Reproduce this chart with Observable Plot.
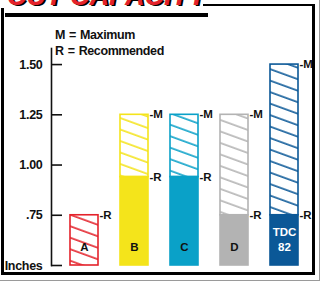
<!DOCTYPE html>
<html><head><meta charset="utf-8">
<script src="https://cdn.jsdelivr.net/npm/d3@7"></script>
<script src="https://cdn.jsdelivr.net/npm/@observablehq/plot@0.6"></script>
<style>
body{margin:0;background:#fff;}
#wrap{position:relative;width:323px;height:282px;overflow:hidden;background:#fff;font-family:"Liberation Sans",Arial,sans-serif;}
#chart{position:absolute;left:0;top:0;}
.ln{position:absolute;background:#000;}
.gr{position:absolute;background:#9a9a9a;}
#title{position:absolute;left:7px;top:-17px;font:italic bold 27px "Liberation Sans",Arial,sans-serif;color:#e4222b;text-shadow:2px 1px 0 #000;line-height:1;white-space:nowrap;}
#legend{position:absolute;left:55px;top:28px;font-weight:bold;font-size:12.5px;letter-spacing:-0.4px;word-spacing:1px;line-height:15.5px;color:#111;}
</style></head><body>
<div id="wrap">
  <div id="chart"></div>
  <div id="title">CUT CAPACITY</div>
  <div class="ln" style="left:5px;top:13px;width:203px;height:4px"></div>
  <div class="ln" style="left:203px;top:4px;width:112px;height:2px"></div>
  <div class="ln" style="left:1px;top:8px;width:3px;height:267px"></div>
  <div class="ln" style="left:312px;top:4px;width:3px;height:271px"></div>
  <div class="ln" style="left:1px;top:272px;width:314px;height:3px"></div>
  <div class="gr" style="left:319px;top:0;width:1px;height:281px"></div>
  <div class="gr" style="left:0;top:280px;width:320px;height:1px"></div>
  <div id="legend"><div>M = Maximum</div><div>R = Recommended</div></div>
</div>
<script>
const categories = ["A","B","C","D","TDC 82"];
const barLabels = ["A","B","C","D","TDC\n82"];
const recommended = [0.75, 0.94, 0.94, 0.75, 0.75];
const maximum = [null, 1.25, 1.25, 1.25, 1.50];
const colors = ["#e4222b","#f4e41b","#0aa1c8","#b3b3b3","#0b5897"];
const labelColors = ["#111","#111","#111","#111","#fff"];
const tickValues = [0.5, 0.75, 1.0, 1.25, 1.5];
const tickLabels = ["Inches", ".75", "1.00", "1.25", "1.50"];
const base = 0.5;

const bars = categories.map((c, i) => ({cat: c, label: barLabels[i], rec: recommended[i], max: maximum[i],
  color: colors[i], hatch: `url(#hatch${i})`, labelColor: labelColors[i], base}));
const hatched = bars.map(d => ({...d, y1: d.max == null ? base : d.rec, y2: d.max == null ? d.rec : d.max}));
const solid = bars.filter(d => d.max != null);
const endLabels = bars.flatMap(d => d.max == null ? [{cat: d.cat, v: d.rec, t: "-R"}]
  : [{cat: d.cat, v: d.max, t: "-M"}, {cat: d.cat, v: d.rec, t: "-R"}]);

const W = 323, H = 282, mL = 51, mT = 48, mB = 17, mR = 0;
const font = '"Liberation Sans",Arial,sans-serif';
const svg = Plot.plot({
  width: W, height: H, marginLeft: mL, marginTop: mT, marginBottom: mB, marginRight: mR,
  style: {background: "transparent", fontFamily: font, overflow: "visible", color: "#111"},
  x: {type: "band", domain: categories, range: [47, 321], padding: 0.444, axis: null},
  y: {domain: [0.5, 1.58], range: [265, 48], axis: null},
  color: {type: "identity"},
  marks: [
    Plot.rectY(solid, {x: "cat", y1: "base", y2: "rec", fill: "color", stroke: "color", strokeWidth: 1.6}),
    Plot.rectY(hatched, {x: "cat", y1: "y1", y2: "y2", fill: "hatch", stroke: "color", strokeWidth: 1.6}),
    Plot.frame({anchor: "left", stroke: "#111", strokeWidth: 1.6}),
    Plot.ruleY(tickValues, {stroke: "#111", strokeWidth: 1.6, insetRight: (W - mL - mR) - 11}),
    Plot.axisY(tickValues, {anchor: "left", tickSize: 0, tickPadding: 9, label: null,
      tickFormat: d => tickLabels[tickValues.indexOf(d)], fontSize: 12.5, fontWeight: "bold", fill: "#111"}),
    Plot.text(endLabels, {x: "cat", y: "v", text: "t", textAnchor: "start", dx: 15, fontSize: 11.5, fontWeight: "bold", fill: "#111"}),
    Plot.text(bars, {x: "cat", y: "base", text: "label", fill: "labelColor", lineAnchor: "bottom", dy: -15,
      fontSize: 11.5, fontWeight: "bold", lineHeight: 1.3})
  ]
});
svg.querySelectorAll("g[aria-label='y-axis tick label'] text, g[aria-label='y-axis tick label']").forEach(e => e.setAttribute("letter-spacing", "-0.3"));
const ns = "http://www.w3.org/2000/svg";
const defs = document.createElementNS(ns, "defs");
colors.forEach((c, i) => {
  const p = document.createElementNS(ns, "pattern");
  p.setAttribute("id", "hatch" + i);
  p.setAttribute("patternUnits", "userSpaceOnUse");
  p.setAttribute("width", 10);
  p.setAttribute("height", 10.8);
  p.setAttribute("patternTransform", "rotate(20)");
  const l = document.createElementNS(ns, "line");
  l.setAttribute("x1", -1); l.setAttribute("x2", 11);
  l.setAttribute("y1", 5); l.setAttribute("y2", 5);
  l.setAttribute("stroke", c); l.setAttribute("stroke-width", 1.6);
  p.appendChild(l);
  defs.appendChild(p);
});
svg.insertBefore(defs, svg.firstChild);
document.getElementById("chart").appendChild(svg);
</script>
</body></html>
